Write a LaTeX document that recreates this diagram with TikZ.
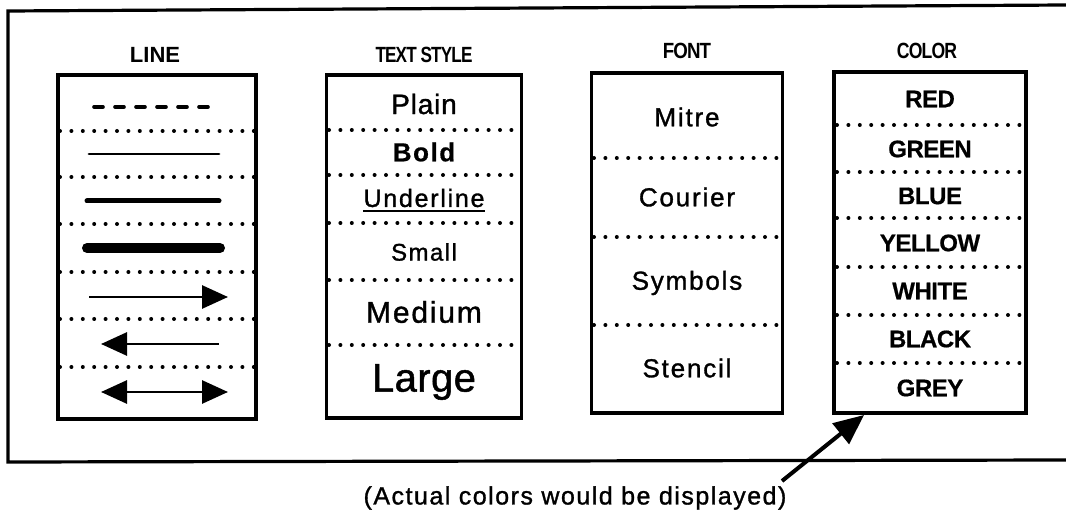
\documentclass[tikz,border=0pt]{standalone}
\usepackage{fontspec}
\setmainfont{Liberation Sans}
\usetikzlibrary{arrows.meta}
\begin{document}
\begin{tikzpicture}[x=1pt,y=-1pt,
  outline/.style={line width=3.2pt},
  panel/.style={draw, line width=3.2pt, inner sep=0pt},
  divider/.style={line width=4pt, line cap=round, dash pattern=on 0pt off 11.4pt},
  heading/.style 2 args={inner sep=0pt,
    font=\fontsize{22}{24}\selectfont\bfseries\addfontfeature{FakeStretch=#1,LetterSpace=#2}},
  entry/.style 2 args={inner sep=0pt,
    font=\fontsize{#1}{#1}\selectfont\addfontfeature{LetterSpace=#2,FakeBold=1.2}},
  boldentry/.style 2 args={inner sep=0pt,
    font=\fontsize{#1}{#1}\selectfont\bfseries\addfontfeature{LetterSpace=#2,FakeBold=0.6}},
  colentry/.style={inner sep=0pt, font=\fontsize{24}{26}\selectfont\bfseries\addfontfeature{FakeBold=0.6,LetterSpace=-2}},
  sample/.style={line cap=round},
  arrowsample/.style={line width=2.8pt, >={Triangle[length=26pt,width=23pt]}},
  pointer/.style={line width=4pt, -{Triangle[length=30pt,width=26pt]}}
]
\useasboundingbox (0,0) rectangle (1066,521);

% outer frame, open on the right
\draw[outline] (1066,5) -- (8,11) -- (8,462) -- (1066,460);

% headings
\node[heading={1}{0}]     (hline)  at (155,55) {LINE};
\node[heading={0.78}{-4}] (hstyle) at (424,55) {TEXT STYLE};
\node[heading={0.85}{-4}] (hfont)  at (687,51) {FONT};
\node[heading={0.8}{-4}]  (hcolor) at (927,51) {COLOR};

% panels
\node[panel, minimum width=198pt, minimum height=344pt] (linebox)  at (157,247)   {};
\node[panel, minimum width=195pt, minimum height=343pt] (stylebox) at (424,246.5) {};
\node[panel, minimum width=191pt, minimum height=340pt] (fontbox)  at (687,243)   {};
\node[panel, minimum width=192pt, minimum height=341pt] (colorbox) at (930,242.5) {};

% dotted row separators
\foreach \y in {131,177,224,272,319,367}
  \draw[divider] (60,\y) -- (255,\y);
\foreach \y in {130,175,223,280,345}
  \draw[divider] (329,\y) -- (521,\y);
\foreach \y in {158,237,325}
  \draw[divider] (594,\y) -- (782,\y);
\foreach \y in {125,172,218,267,315,363}
  \draw[divider] (837,\y) -- (1025,\y);

% line samples
\draw[sample, line width=3.6pt, dash pattern=on 9pt off 12pt] (94,107) -- (212,107);
\draw[sample, line width=2.8pt] (89,154) -- (219,154);
\draw[sample, line width=5pt] (87,201) -- (219,201);
\draw[sample, line width=10pt] (87,248) -- (220,248);
\draw[arrowsample, ->] (89,297) -- (228,297);
\draw[arrowsample, <-] (101,344) -- (219,344);
\draw[arrowsample, <->] (101,392) -- (228,392);

% text styles
\node[entry={28}{3}]     (tsplain)  at (424,104) {Plain};
\node[boldentry={26}{6}] (tsbold)   at (424,152) {Bold};
\node[entry={25}{7}]     (tsunder)  at (424,198) {Underline};
\draw[line width=2.2pt] ([yshift=-4pt]tsunder.base west) -- ([yshift=-4pt]tsunder.base east);
\node[entry={24}{6}]     (tssmall)  at (424,252) {Small};
\node[entry={30}{6}]     (tsmedium) at (424,312) {Medium};
\node[entry={40}{1}]     (tslarge)  at (424,382) {Large};

% fonts
\node[entry={26}{7}] (fmitre)   at (687,117) {Mitre};
\node[entry={26}{7}] (fcourier) at (687,197) {Courier};
\node[entry={26}{7}] (fsymbols) at (687,283) {Symbols};
\node[entry={26}{7}] (fstencil) at (687,368) {Stencil};

% colours
\node[colentry] (cred)    at (930,99)  {RED};
\node[colentry] (cgreen)  at (930,149) {GREEN};
\node[colentry] (cblue)   at (930,196) {BLUE};
\node[colentry] (cyellow) at (930,243) {YELLOW};
\node[colentry] (cwhite)  at (930,291) {WHITE};
\node[colentry] (cblack)  at (930,339) {BLACK};
\node[colentry] (cgrey)   at (930,388) {GREY};

% note and pointer
\node[entry={25}{6}] (note) at (575,498) {(Actual colors would be displayed)};
\coordinate (ptail) at (782,481);
\coordinate (ptip) at (864,415);
\draw[pointer] (ptail) -- (ptip);
\end{tikzpicture}
\end{document}
